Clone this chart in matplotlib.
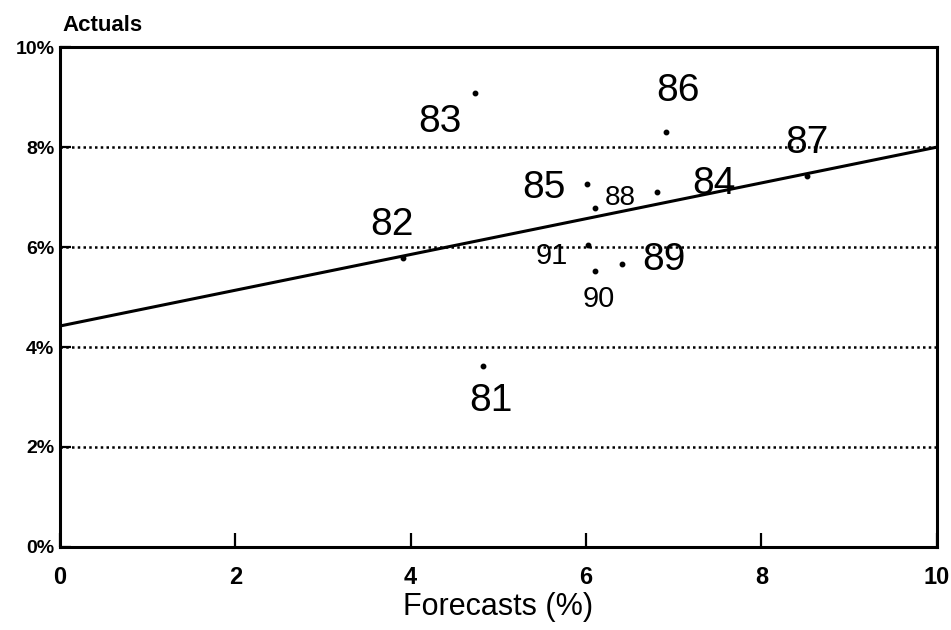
import matplotlib.pyplot as plt
from matplotlib.ticker import FuncFormatter

# DATA
years = ["81", "82", "83", "84", "85", "86", "87", "88", "89", "90", "91"]
forecasts = [4.82, 3.91, 4.73, 6.81, 6.01, 6.91, 8.52, 6.10, 6.41, 6.10, 6.02]
actuals = [3.62, 5.78, 9.08, 7.10, 7.26, 8.30, 7.42, 6.78, 5.66, 5.52, 6.04]
fit_x = [0, 10]
fit_y = [4.42, 8.0]

# label placement: offset in points from each dot, font size
label_offsets = {
    "81": (6, -25, 28), "82": (-8, 24, 28), "83": (-25, -21, 28),
    "84": (41, 6, 28), "85": (-31, -3, 28), "86": (9, 30, 28),
    "87": (0, 24, 28), "88": (18, 7, 20), "89": (30, 3, 28),
    "90": (3, -20, 21), "91": (-26, -8, 21),
}

plt.rcParams['font.family'] = ['Liberation Sans', 'DejaVu Sans']

fig = plt.figure(figsize=(9.51, 6.3), dpi=100)
ax = fig.add_axes([0.063, 0.132, 0.922, 0.793])

ax.plot(fit_x, fit_y, color="black", lw=2.2, zorder=3)
ax.plot(forecasts, actuals, linestyle="none", marker="o", ms=3.2,
        color="black", zorder=4)

for yr, x, y in zip(years, forecasts, actuals):
    dx, dy, fs = label_offsets[yr]
    ax.annotate(yr, (x, y), xytext=(dx, dy), textcoords="offset points",
                ha="center", va="center", fontsize=fs, color="black")

ax.set_xlim(0, 10)
ax.set_ylim(0, 10)
ax.set_xticks([0, 2, 4, 6, 8, 10])
ax.set_yticks([0, 2, 4, 6, 8, 10])
ax.yaxis.set_major_formatter(FuncFormatter(lambda v, p: f"{v:.0f}%"))

for gy in [2, 4, 6, 8]:
    ax.axhline(gy, color="black", lw=1.8, ls=(0, (1, 1.3)), zorder=1)

for s in ax.spines.values():
    s.set_linewidth(2.2)
    s.set_color("black")

ax.tick_params(axis="x", direction="in", length=10, width=1.6, pad=14,
               labelsize=17)
ax.tick_params(axis="y", direction="in", length=8, width=1.6, pad=4,
               labelsize=14)
for lbl in ax.get_xticklabels() + ax.get_yticklabels():
    lbl.set_fontweight("bold")

ax.set_xlabel("Forecasts (%)", fontsize=22, labelpad=2)
fig.text(0.066, 0.96, "Actuals", fontsize=16, fontweight="bold",
         ha="left", va="center")

plt.savefig("out.png", dpi=100)
plt.close()
